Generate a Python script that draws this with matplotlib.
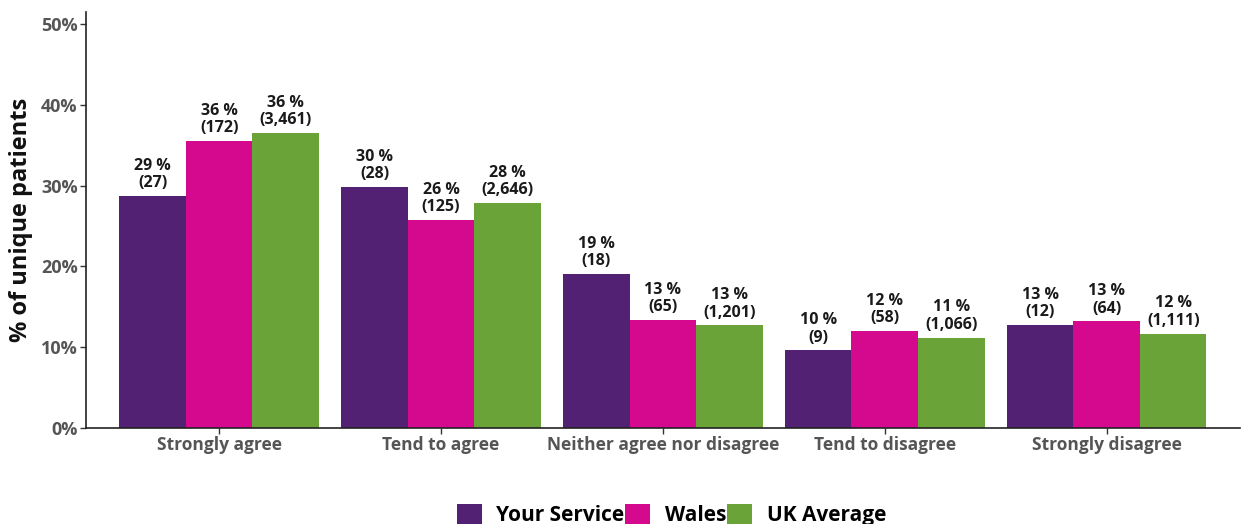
import matplotlib
matplotlib.use("Agg")
import matplotlib.pyplot as plt
import numpy as np
from matplotlib.ticker import PercentFormatter

plt.rcParams['font.family'] = ['Open Sans', 'DejaVu Sans']

categories = ["Strongly agree", "Tend to agree", "Neither agree nor disagree",
              "Tend to disagree", "Strongly disagree"]
series_names = ["Your Service", "Wales", "UK Average"]

your_service_pct = [28.7, 29.8, 19.1, 9.6, 12.8]
wales_pct = [35.5, 25.8, 13.4, 12.0, 13.2]
uk_average_pct = [36.49, 27.9, 12.7, 11.2, 11.7]

your_service_n = [27, 28, 18, 9, 12]
wales_n = [172, 125, 65, 58, 64]
uk_average_n = [3461, 2646, 1201, 1066, 1111]

colors = ["#522173", "#D4098E", "#6AA338"]

fig = plt.figure(figsize=(12.41, 5.24), dpi=100)
ax = fig.add_axes([0.0693, 0.1832, 0.9297, 0.7938])

x = np.arange(len(categories))
width = 0.30
pcts = [your_service_pct, wales_pct, uk_average_pct]
counts = [your_service_n, wales_n, uk_average_n]

for i, (vals, ns, name, col) in enumerate(zip(pcts, counts, series_names, colors)):
    pos = x + (i - 1) * width
    bars = ax.bar(pos, vals, width=width, color=col, label=name, linewidth=0)
    for b, v, n in zip(bars, vals, ns):
        ax.text(b.get_x() + b.get_width() / 2, v + 0.6,
                f"{round(v)} %\n({n:,})", ha="center", va="bottom",
                fontsize=11.5, fontweight="bold", color="#1a1a1a",
                linespacing=1.1)

ax.set_xlim(-0.6, 4.6)
ax.set_ylim(0, 51.5)
ax.set_yticks([0, 10, 20, 30, 40, 50])
ax.yaxis.set_major_formatter(PercentFormatter(decimals=0))
ax.set_xticks(x)
ax.set_xticklabels(categories)

for lab in ax.get_xticklabels() + ax.get_yticklabels():
    lab.set_fontweight("bold")
    lab.set_color("#555555")
for lab in ax.get_yticklabels():
    lab.set_fontsize(13)
for lab in ax.get_xticklabels():
    lab.set_fontsize(12.5)

ax.tick_params(axis="both", length=4, width=1, color="#333333", pad=2)
ax.set_ylabel("% of unique patients", fontsize=17, fontweight="bold",
              color="#111111", labelpad=6)

for side in ("top", "right"):
    ax.spines[side].set_visible(False)
for side in ("left", "bottom"):
    ax.spines[side].set_color("#222222")
    ax.spines[side].set_linewidth(1.2)

fig.legend(loc="lower center", bbox_to_anchor=(0.541, -0.04), ncol=3,
           frameon=False, prop={"weight": "bold", "size": 15},
           handlelength=1.2, handleheight=1.2, handletextpad=0.7,
           columnspacing=0.05)

fig.savefig("out.png", dpi=100, facecolor="white")
